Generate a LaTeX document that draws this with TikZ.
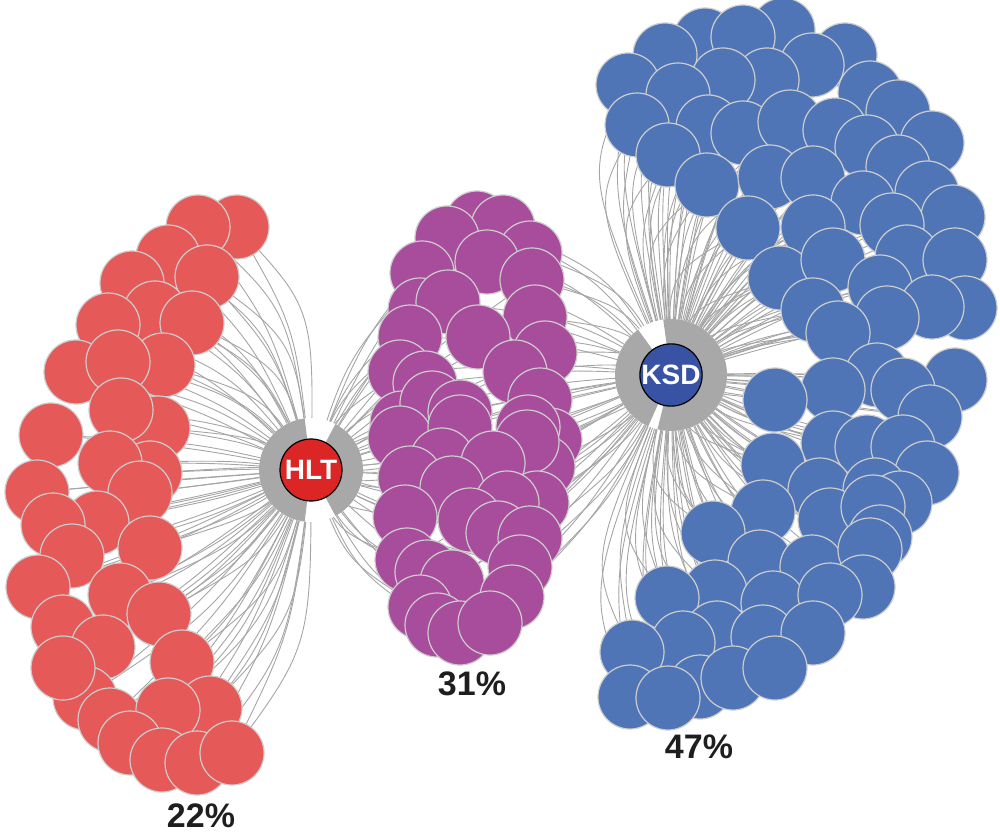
\documentclass[tikz,border=0pt]{standalone}
\usepackage{fontspec}
\setmainfont{Liberation Sans}
\usetikzlibrary{calc}
\definecolor{redc}{RGB}{229,89,89}
\definecolor{purc}{RGB}{168,76,156}
\definecolor{bluc}{RGB}{79,117,182}
\definecolor{hltc}{RGB}{220,38,38}
\definecolor{ksdc}{RGB}{56,82,164}
\definecolor{ringc}{RGB}{168,168,168}
\definecolor{edgec}{RGB}{165,165,165}
\definecolor{bordc}{RGB}{205,205,205}
\definecolor{pctc}{RGB}{30,30,30}
\pgfdeclarelayer{edges}\pgfdeclarelayer{front}
\pgfsetlayers{edges,main,front}
\tikzset{
 bub/.style={circle,draw=bordc,line width=0.6pt,minimum size=32pt,inner sep=0pt},
 redbub/.style={bub,fill=redc},
 purbub/.style={bub,fill=purc},
 blubub/.style={bub,fill=bluc},
 edgeline/.style={draw=edgec,line width=0.45pt},
 hub/.style={circle,draw=black,line width=0.6pt,minimum size=31pt,inner sep=0pt,text=white,font=\bfseries\fontsize{14}{14}\selectfont},
 pct/.style={font=\bfseries\fontsize{17}{17}\selectfont,text=pctc},
 ring/.style={fill=ringc}
}
\begin{document}
\begin{tikzpicture}[x=0.5pt,y=-0.5pt]
\useasboundingbox (0,0) rectangle (1000,833);
\coordinate (cr) at (130,490);
\coordinate (cp) at (470,430);
\coordinate (cb) at (830,380);
\begin{pgfonlayer}{front}
 \coordinate (hc) at (311,470);
 \coordinate (kc) at (671,375);
 \fill[white] (hc) circle[radius=26pt];
 \fill[white] (kc) circle[radius=28pt];
 \fill[ring] ([shift={(97:26pt)}]hc) arc[start angle=97,end angle=263,radius=26pt] -- ([shift={(263:15.5pt)}]hc) arc[start angle=263,end angle=97,radius=15.5pt] -- cycle;
 \fill[ring] ([shift={(-62:26pt)}]hc) arc[start angle=-62,end angle=62,radius=26pt] -- ([shift={(62:15.5pt)}]hc) arc[start angle=62,end angle=-62,radius=15.5pt] -- cycle;
 \fill[ring] ([shift={(126:28pt)}]kc) arc[start angle=126,end angle=246,radius=28pt] -- ([shift={(246:15.5pt)}]kc) arc[start angle=246,end angle=126,radius=15.5pt] -- cycle;
 \fill[ring] ([shift={(-104:28pt)}]kc) arc[start angle=-104,end angle=98,radius=28pt] -- ([shift={(98:15.5pt)}]kc) arc[start angle=98,end angle=-104,radius=15.5pt] -- cycle;
 \node[hub,fill=hltc] (hlt) at (hc) {HLT};
 \node[hub,fill=ksdc] (ksd) at (kc) {KSD};
\end{pgfonlayer}
% red cluster
\foreach [count=\i] \px/\py in {237/227,198/227,168/257,207/277,132/283,155/313,192/323,108/325,163/365,76/372,118/362,158/428,121/410,51/435,150/473,110/463,37/492,140/493,97/523,53/525,150/548,72/556,38/587,120/595,159/614,63/627,103/647,182/662,85/698,63/668,110/720,210/708,168/710,130/743,162/760,197/763,232/753}{
 \node[redbub] (r\i) at (\px,\py) {};
 \begin{pgfonlayer}{edges}
 \draw[edgeline] (hlt.center) .. controls ($(hlt.center)!0.5!(r\i.center)!-0.15!(cr)$) .. (r\i.center);
 \draw[edgeline] (hlt.center) .. controls ($(hlt.center)!0.5!(r\i.center)!-0.28!(cr)$) .. (r\i.center);
 \end{pgfonlayer}
}
% purple cluster
\foreach [count=\i] \px/\py in {477/223,503/227,530/253,447/238,487/262,532/280,535/317,545/353,422/273,420/310,448/302,410/337,478/337,400/372,515/372,425/383,540/400,550/440,543/467,402/423,432/403,460/412,528/427,400/438,460/427,442/460,527/442,493/463,410/478,452/488,537/503,507/503,405/517,470/520,498/533,530/538,520/567,407/560,427/572,452/582,512/597,420/607,437/625,460/633,490/623}{
 \node[purbub] (p\i) at (\px,\py) {};
 \begin{pgfonlayer}{edges}
 \draw[edgeline] (hlt.center) .. controls ($(hlt.center)!0.5!(p\i.center)!-0.2!(cp)$) .. (p\i.center);
 \draw[edgeline] (ksd.center) .. controls ($(ksd.center)!0.5!(p\i.center)!-0.2!(cp)$) .. (p\i.center);
 \end{pgfonlayer}
}
% blue cluster
\foreach [count=\i] \px/\py in {705/40,665/55,783/30,845/55,743/37,812/65,870/93,898/112,767/80,723/80,628/85,678/95,637/125,708/127,743/133,790/122,835/130,867/147,932/143,668/155,707/185,770/177,813/178,898/167,927/193,953/217,863/203,748/228,813/227,892/225,780/278,833/260,907/257,955/260,880/287,965/308,932/307,813/310,887/318,838/333,877/375,833/390,775/400,955/380,903/390,930/417,833/443,867/447,903/447,927/473,773/465,820/490,875/490,900/503,763/512,830/520,713/533,873/507,880/537,760/562,812/567,870/550,863/587,715/592,667/598,773/603,830/595,717/633,683/643,632/652,763/637,813/633,630/697,700/687,733/678,775/668,668/698}{
 \node[blubub] (b\i) at (\px,\py) {};
 \begin{pgfonlayer}{edges}
 \draw[edgeline] (ksd.center) .. controls ($(ksd.center)!0.5!(b\i.center)!-0.22!(cb)$) .. (b\i.center);
 \draw[edgeline] (ksd.center) .. controls ($(ksd.center)!0.5!(b\i.center)!-0.36!(cb)$) .. (b\i.center);
 \end{pgfonlayer}
}
\node[pct] (l22) at (201,816) {22\%};
\node[pct] (l31) at (472,684) {31\%};
\node[pct] (l47) at (699,747) {47\%};
\end{tikzpicture}
\end{document}
